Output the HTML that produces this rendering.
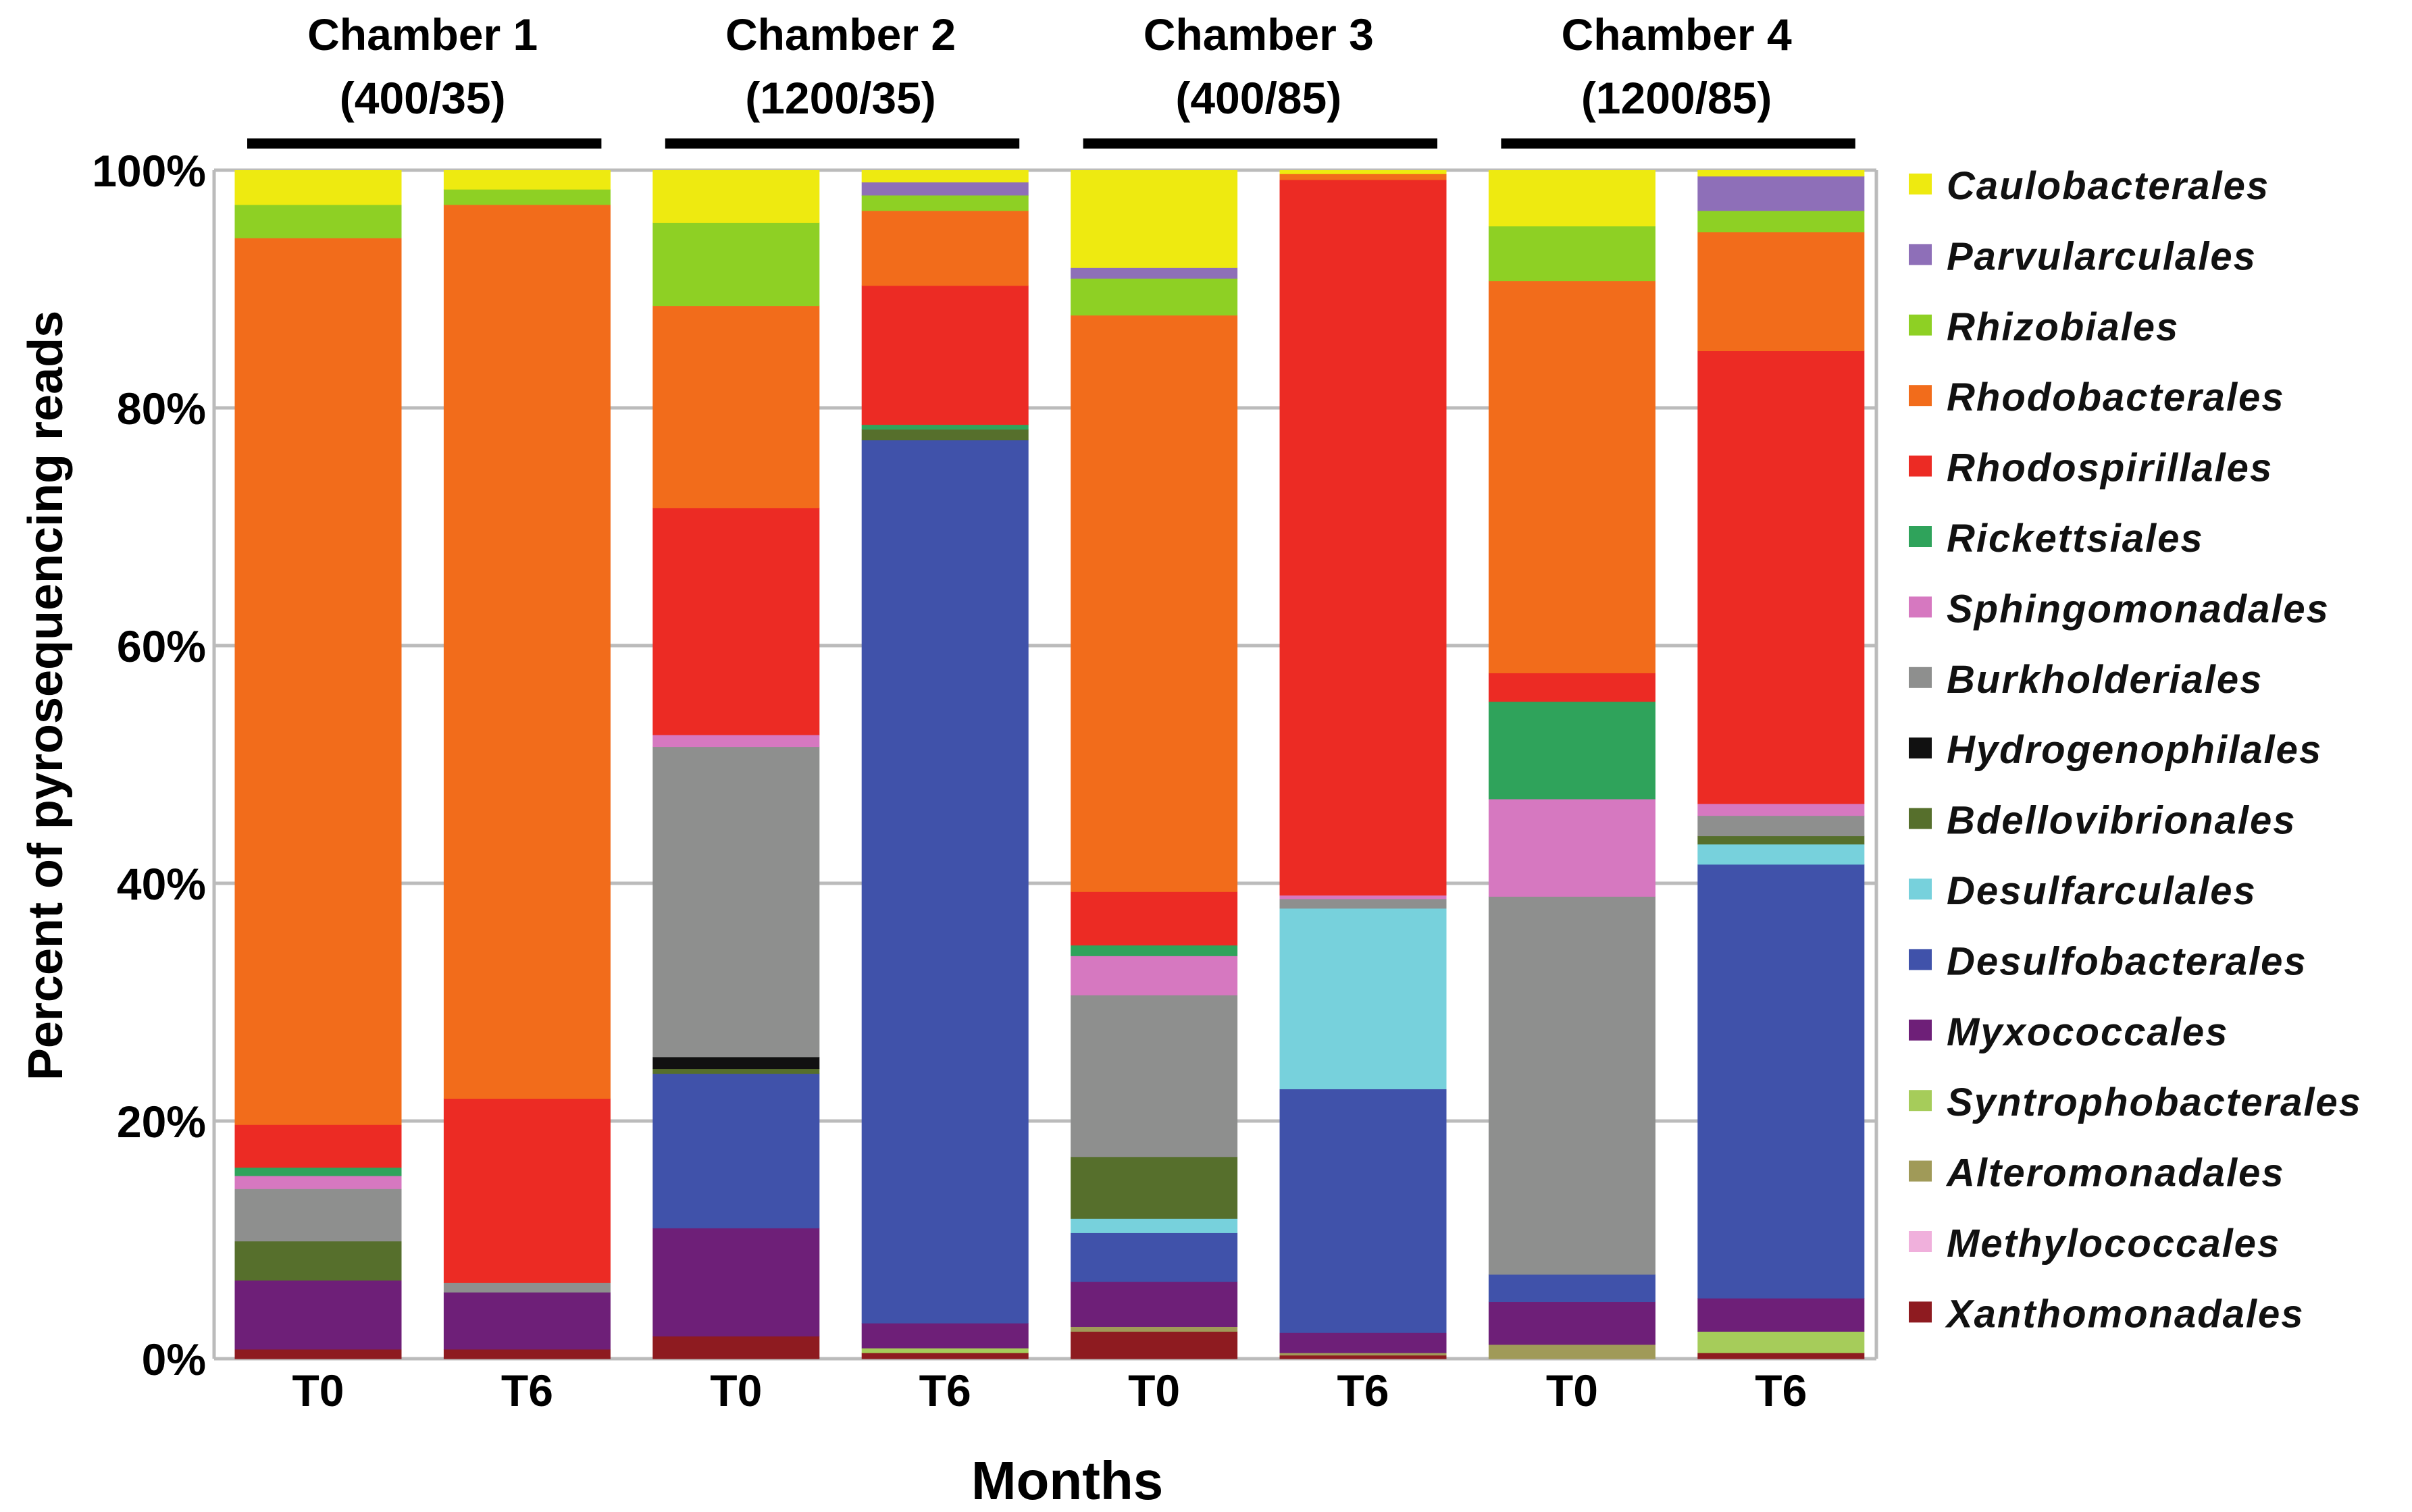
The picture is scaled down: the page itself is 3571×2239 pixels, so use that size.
<!DOCTYPE html>
<html><head><meta charset="utf-8"><style>
html,body{margin:0;padding:0;background:#fff;}
svg{display:block;font-family:"Liberation Sans",Arial,sans-serif;}
</style></head><body>
<svg id="chart" width="3571" height="2239" viewBox="0 0 3571 2239" xmlns="http://www.w3.org/2000/svg">
<rect width="3571" height="2239" fill="#fff"/>
<g id="grid"></g><g id="bars"></g><g id="axes"></g><g id="legend"></g>
</svg>
<script>
const categories = ["C1 T0","C1 T6","C2 T0","C2 T6","C3 T0","C3 T6","C4 T0","C4 T6"];
const xLabels = ["T0","T6","T0","T6","T0","T6","T0","T6"];
const chambers = ["Chamber 1","Chamber 2","Chamber 3","Chamber 4"];
const chamberSub = ["(400/35)","(1200/35)","(400/85)","(1200/85)"];
const yTicks = [0,20,40,60,80,100];
// series listed bottom to top of stack
const seriesNames = ["Xanthomonadales","Methylococcales","Alteromonadales","Syntrophobacterales","Myxococcales","Desulfobacterales","Desulfarculales","Bdellovibrionales","Hydrogenophilales","Burkholderiales","Sphingomonadales","Rickettsiales","Rhodospirillales","Rhodobacterales","Rhizobiales","Parvularculales","Caulobacterales"];
const seriesColors = ["#8e1b20","#f0b0dc","#a09a58","#a6cc5a","#6e1f78","#4052aa","#77d1dc","#566f2c","#111111","#8e8f8e","#d678c0","#2fa35b","#ec2b24","#f26c1b","#8ed024","#8e6fb8","#eeea10"];
const xantho   = [0.8,0.8,1.9,0.5,2.3,0.3,0,0.5];
const methylo  = [0,0,0,0,0,0,0,0];
const altero   = [0,0,0,0,0.4,0.2,1.2,0];
const syntro   = [0,0,0,0.4,0,0,0,1.8];
const myxo     = [5.8,4.8,9.1,2.1,3.8,1.7,3.6,2.8];
const desulfob = [0,0,13.0,74.3,4.1,20.5,2.3,36.5];
const desulfar = [0,0,0,0,1.2,15.2,0,1.7];
const bdello   = [3.3,0,0.4,0.9,5.2,0,0,0.7];
const hydro    = [0,0,1.0,0,0,0,0,0];
const burk     = [4.4,0.8,26.1,0,13.6,0.8,31.8,1.7];
const sphingo  = [1.1,0,1.0,0,3.3,0.3,8.2,1.0];
const ricket   = [0.7,0,0,0.4,0.9,0,8.2,0];
const rhodospi = [3.6,15.5,19.1,11.7,4.5,60.2,2.4,38.1];
const rhodobac = [74.6,75.2,17.0,6.3,48.5,0.5,33.0,10.0];
const rhizo    = [2.8,1.3,7.0,1.3,3.1,0,4.6,1.8];
const parvu    = [0,0,0,1.1,0.9,0,0,2.9];
const caulo    = [2.9,1.6,4.4,1.0,8.2,0.3,4.7,0.5];
const seriesValues = [xantho,methylo,altero,syntro,myxo,desulfob,desulfar,bdello,hydro,burk,sphingo,ricket,rhodospi,rhodobac,rhizo,parvu,caulo];

const NS="http://www.w3.org/2000/svg";
const L=317,R=2778,T=252,B=2012,barW=247,x0=471,step=309.4;
const y=v=>B-(B-T)*v/100;
const xc=i=>x0+i*step;
function mk(tag,attrs,parent){const e=document.createElementNS(NS,tag);for(const k in attrs)e.setAttribute(k,attrs[k]);parent.appendChild(e);return e;}
const grid=document.getElementById('grid'),bars=document.getElementById('bars'),axes=document.getElementById('axes'),legend=document.getElementById('legend');

yTicks.forEach(t=>{
  const g=mk('line',{x1:L,x2:R,y1:y(t),y2:y(t),stroke:'#bbbbbb','stroke-width':5},grid);
  
  
  const tx=mk('text',{x:305,y:y(t)+24,'text-anchor':'end','font-size':66,'font-weight':'bold',fill:'#000'},axes);
  tx.textContent=t+'%';
  
  
});
const la=mk('line',{x1:L,x2:L,y1:T,y2:B,stroke:'#bbbbbb','stroke-width':5},axes);


const ra=mk('line',{x1:R,x2:R,y1:T,y2:B,stroke:'#bbbbbb','stroke-width':5},axes);



categories.forEach((c,i)=>{
  let cum=0;
  seriesValues.forEach((arr,s)=>{
    const v=arr[i];
    if(v<=0){return;}
    const r=mk('rect',{x:xc(i)-barW/2,y:y(cum+v),width:barW,height:y(cum)-y(cum+v)+0.5,fill:seriesColors[s]},bars);
    
    
    cum+=v;
  });
  const t=mk('text',{x:xc(i),y:2082,'text-anchor':'middle','font-size':66,'font-weight':'bold',fill:'#000'},axes);
  t.textContent=xLabels[i];
  
  
});

chambers.forEach((c,k)=>{
  const cx=(xc(2*k)+xc(2*k+1))/2;
  const t1=mk('text',{x:cx,y:74,'text-anchor':'middle','font-size':66,'font-weight':'bold',fill:'#000'},axes);
  t1.textContent=c;
  
  
  const t2=mk('text',{x:cx,y:168,'text-anchor':'middle','font-size':66,'font-weight':'bold',fill:'#000'},axes);
  t2.textContent=chamberSub[k];
  
  
  const b=mk('rect',{x:xc(2*k)-105,y:205,width:xc(2*k+1)-xc(2*k)+215,height:15,fill:'#000'},axes);
  
  
});

const yt=mk('text',{x:0,y:0,'text-anchor':'middle','font-size':72,'font-weight':'bold',fill:'#000',transform:'translate(92,1030) rotate(-90)'},axes);
yt.textContent='Percent  of pyrosequencing reads';


const xt=mk('text',{x:1580,y:2220,'text-anchor':'middle','font-size':80,'font-weight':'bold',fill:'#000'},axes);
xt.textContent='Months';



for(let j=0;j<seriesNames.length;j++){
  const s=seriesNames.length-1-j;
  const cy=273+j*104.4;
  const sw=mk('rect',{x:2826,y:cy-16,width:34,height:31,fill:seriesColors[s]},legend);
  
  
  const lt=mk('text',{x:2882,y:cy+22,'font-size':58,'font-weight':'bold','font-style':'italic','letter-spacing':2,fill:'#111'},legend);
  lt.textContent=seriesNames[s];
  
  
}
</script>
</body></html>
